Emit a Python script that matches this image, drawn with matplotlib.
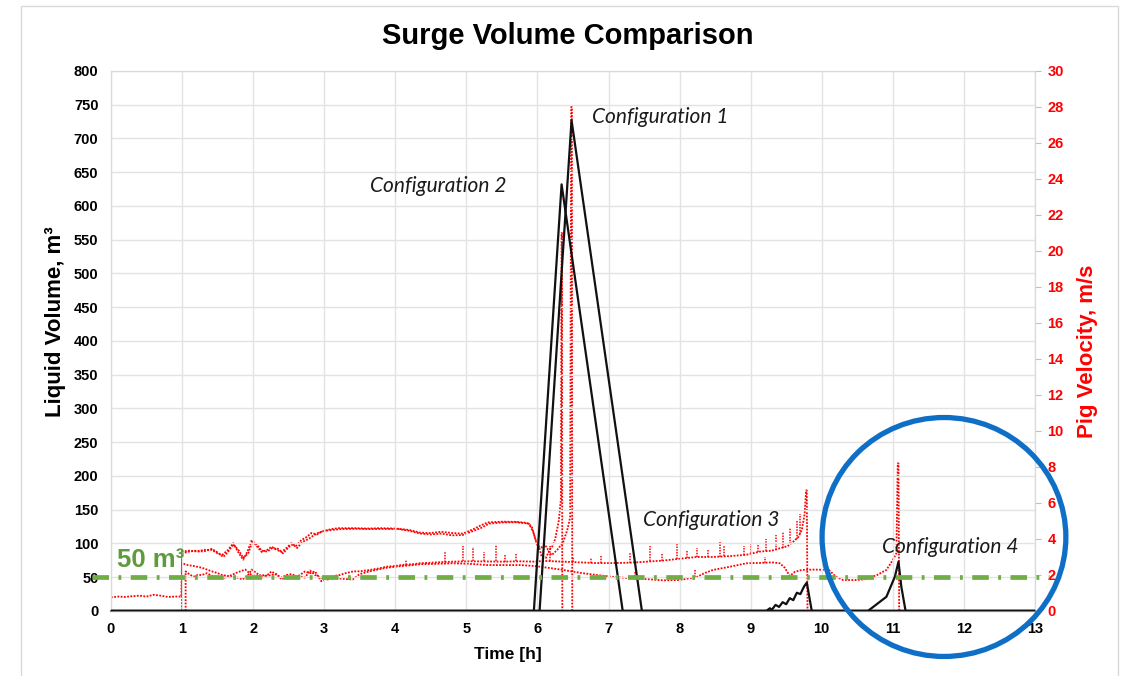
import matplotlib.pyplot as plt
from matplotlib.patches import Ellipse, Rectangle

# Liquid volume (m3) per configuration, time in hours
conf1_t = [0, 6.03, 6.48, 7.47, 13]
conf1_v = [0, 0, 727, 0, 0]
conf2_t = [0, 5.95, 6.34, 7.20, 13]
conf2_v = [0, 0, 632, 0, 0]
conf3_t = [0, 9.22, 9.27, 9.30, 9.35, 9.40, 9.45, 9.50, 9.55, 9.60, 9.65, 9.70, 9.75, 9.79, 9.86, 13]
conf3_v = [0, 0, 4, 2, 9, 6, 13, 10, 19, 16, 27, 25, 36, 42, 0, 0]
conf4_t = [0, 10.65, 10.91, 11.03, 11.08, 11.12, 11.18, 13]
conf4_v = [0, 0, 21, 51, 73, 36, 0, 0]

# Pig velocity (m/s) per configuration
pig1_t = [0, 1.0, 1.0, 1.1, 1.23, 1.3, 1.42, 1.5, 1.56, 1.65, 1.72, 1.8, 1.86, 1.92, 1.98,
          2.05, 2.12, 2.2, 2.26, 2.33, 2.4, 2.47, 2.54, 2.6, 2.68, 2.75, 2.82, 2.9, 2.96,
          3.1, 3.2, 3.4, 3.6, 3.8, 4.0, 4.2, 4.35, 4.5, 4.65, 4.8, 4.95, 5.1, 5.2, 5.3,
          5.5, 5.7, 5.85, 5.92, 5.97, 6.02, 6.06, 6.12, 6.16, 6.2, 6.28, 6.36, 6.42, 6.46,
          6.475, 6.485, 6.49, 13]
pig1_v = [0, 0, 3.3, 3.35, 3.3, 3.4, 3.39, 3.2, 3.1, 3.4, 3.77, 3.2, 2.85, 3.3, 3.94,
          3.6, 3.28, 3.4, 3.57, 3.4, 3.28, 3.5, 3.77, 3.6, 3.94, 4.1, 4.33, 4.25, 4.4,
          4.55, 4.6, 4.6, 4.58, 4.6, 4.58, 4.5, 4.35, 4.33, 4.4, 4.33, 4.3, 4.55, 4.75, 4.92,
          4.96, 4.95, 4.9, 4.7, 4.0, 3.6, 3.0, 2.95, 3.3, 3.1, 3.4, 3.8, 4.5, 5.2,
          28.0, 28.0, 0, 0]

pig2_t = [0, 0.1, 0.2, 0.3, 0.4, 0.5, 0.6, 0.7, 0.8, 0.9, 0.99, 1.0, 1.1, 1.2, 1.3, 1.42,
          1.5, 1.58, 1.65, 1.72, 1.8, 1.86, 1.93, 1.99, 2.05, 2.12, 2.2, 2.27, 2.35, 2.42,
          2.5, 2.56, 2.62, 2.7, 2.78, 2.85, 2.92, 3.0, 3.1, 3.25, 3.45, 3.65, 3.85, 4.05,
          4.2, 4.35, 4.5, 4.65, 4.8, 4.95, 5.1, 5.2, 5.32, 5.5, 5.7, 5.88, 5.94, 6.0, 6.05,
          6.1, 6.15, 6.2, 6.25, 6.3, 6.33, 6.34, 6.345, 6.35, 13]
pig2_v = [0.75, 0.8, 0.78, 0.82, 0.85, 0.8, 0.9, 0.85, 0.78, 0.8, 0.8, 3.2, 3.3, 3.35, 3.3, 3.45,
          3.25, 3.0, 3.3, 3.7, 3.35, 2.95, 3.2, 3.85, 3.7, 3.35, 3.3, 3.5, 3.45, 3.2,
          3.55, 3.7, 3.5, 3.85, 4.0, 4.2, 4.35, 4.45, 4.5, 4.55, 4.57, 4.55, 4.56, 4.55,
          4.45, 4.3, 4.25, 4.3, 4.2, 4.22, 4.45, 4.6, 4.85, 4.92, 4.93, 4.85, 4.4, 3.6, 3.5,
          3.7, 3.4, 3.5, 4.0, 5.0, 6.2, 21.0, 21.0, 0, 0]

pig3_t = [0, 1.0, 1.0, 1.08, 1.16, 1.22, 1.28, 1.35, 1.42, 1.5, 1.56, 1.63, 1.7, 1.78, 1.85,
          1.92, 1.98, 2.05, 2.12, 2.2, 2.26, 2.33, 2.4, 2.47, 2.54, 2.62, 2.73, 2.8, 2.87,
          2.96, 3.05, 3.15, 3.22, 3.3, 3.41, 3.5, 3.64, 3.75, 3.88, 4.0, 4.11, 4.25, 4.35,
          4.58, 4.81, 5.04, 5.3, 5.52, 5.76, 5.95, 6.1, 6.36, 6.6, 6.83, 7.05, 7.3, 7.54,
          7.77, 8.0, 8.24, 8.47, 8.71, 8.94, 9.13, 9.3, 9.41, 9.52, 9.6, 9.67, 9.72, 9.76,
          9.78, 9.79, 9.8, 13]
pig3_v = [0, 0, 2.65, 2.55, 2.5, 2.45, 2.4, 2.3, 2.2, 2.1, 2.0, 1.95, 1.9, 1.85, 1.75,
          1.95, 2.3, 2.1, 1.85, 2.0, 2.2, 2.0, 1.85, 2.0, 2.05, 1.9, 2.2, 2.1, 2.2,
          1.65, 1.8, 1.95, 2.0, 2.1, 2.2, 2.2, 2.28, 2.35, 2.46, 2.5, 2.56, 2.6, 2.65,
          2.7, 2.74, 2.76, 2.75, 2.74, 2.76, 2.74, 2.78, 2.74, 2.7, 2.66, 2.66, 2.68, 2.74,
          2.8, 2.9, 3.0, 3.0, 3.05, 3.12, 3.3, 3.35, 3.48, 3.6, 3.85, 4.1, 4.5, 5.4,
          6.7, 6.7, 0, 0]

pig4_t = [0, 1.05, 1.05, 1.1, 1.16, 1.22, 1.28, 1.35, 1.42, 1.5, 1.56, 1.63, 1.7, 1.78, 1.89,
          1.98, 2.05, 2.12, 2.2, 2.26, 2.33, 2.4, 2.47, 2.54, 2.62, 2.73, 2.8, 2.87, 2.96,
          3.05, 3.15, 3.22, 3.4, 3.5, 3.64, 3.75, 3.88, 4.0, 4.11, 4.25, 4.35, 4.58, 4.81,
          5.04, 5.3, 5.52, 5.76, 5.95, 6.15, 6.36, 6.6, 6.83, 7.05, 7.3, 7.54, 7.77, 8.0,
          8.24, 8.35, 8.47, 8.71, 8.94, 9.13, 9.3, 9.41, 9.48, 9.55, 9.62, 9.72, 9.9, 10.1,
          10.2, 10.3, 10.5, 10.64, 10.78, 10.91, 11.0, 11.05, 11.07, 11.08, 11.09, 13]
pig4_v = [0, 0, 2.2, 2.05, 1.9, 2.0, 2.0, 2.1, 1.95, 1.9, 1.8, 1.9, 2.0, 2.15, 2.3,
          2.0, 1.95, 2.0, 1.95, 2.0, 2.05, 1.75, 1.9, 1.85, 1.95, 1.85, 2.25, 2.0, 1.85,
          1.75, 1.85, 1.8, 1.75, 2.05, 2.2, 2.3, 2.4, 2.46, 2.5, 2.55, 2.6, 2.62, 2.65,
          2.62, 2.55, 2.55, 2.55, 2.5, 2.4, 2.28, 2.12, 2.0, 1.9, 1.82, 1.77, 1.7, 1.72,
          1.88, 2.1, 2.28, 2.46, 2.65, 2.67, 2.7, 2.65, 2.4, 1.94, 2.17, 2.28, 2.3, 2.28,
          1.9, 1.72, 1.72, 1.78, 2.0, 2.28, 2.83, 3.2, 8.2, 8.2, 0, 0]

# short velocity spikes: time, base, top
spike3_t = [4.15, 4.7, 4.95, 5.1, 5.25, 5.42, 5.55, 5.7, 6.18, 6.5, 6.76, 6.9, 7.3, 7.58,
            7.75, 7.97, 8.1, 8.24, 8.4, 8.57, 8.62, 8.9, 9.0, 9.1, 9.22, 9.35, 9.45, 9.55,
            9.65, 9.7]
spike3_lo = [2.57, 2.72, 2.75, 2.76, 2.75, 2.75, 2.74, 2.75, 2.78, 2.72, 2.66, 2.66, 2.68, 2.75,
             2.8, 2.9, 2.95, 3.0, 3.0, 3.02, 3.03, 3.1, 3.2, 3.28, 3.32, 3.38, 3.5, 3.7,
             4.0, 4.3]
spike3_hi = [2.85, 3.3, 3.6, 3.57, 3.3, 3.65, 3.1, 3.2, 3.6, 3.0, 2.95, 3.1, 3.2, 3.6,
             3.2, 3.7, 3.4, 3.5, 3.4, 3.85, 3.6, 3.6, 3.8, 3.7, 4.0, 4.2, 4.4, 4.6,
             5.0, 5.4]
spike4_t = [7.37, 8.22, 9.2]
spike4_lo = [1.8, 1.87, 2.68]
spike4_hi = [2.2, 2.3, 3.0]

limit_volume = 50

x_ticks = list(range(0, 14))
y_ticks = list(range(0, 801, 50))
y2_ticks = list(range(0, 31, 2))

plt.rcParams['font.family'] = ['Liberation Sans', 'DejaVu Sans']

fig = plt.figure(figsize=(11.28, 6.76), dpi=100)
fig.patches.append(Rectangle((0.0186, -0.01), 0.9725, 1.001, transform=fig.transFigure,
                             fill=False, edgecolor='#d9d9d9', linewidth=1))
ax = fig.add_axes([0.0984, 0.0962, 0.8191, 0.7988])
ax2 = ax.twinx()

red = '#ff0000'
dots = (0, (1, 0.8))
for t, v in [(pig1_t, pig1_v), (pig2_t, pig2_v), (pig3_t, pig3_v), (pig4_t, pig4_v)]:
    ax2.plot(t, v, color=red, linestyle=dots, linewidth=1.3)
ax2.vlines(spike3_t, spike3_lo, spike3_hi, colors=red, linestyles=[dots], linewidth=1.1)
ax2.vlines(spike4_t, spike4_lo, spike4_hi, colors=red, linestyles=[dots], linewidth=1.1)

for t, v in [(conf1_t, conf1_v), (conf2_t, conf2_v), (conf3_t, conf3_v), (conf4_t, conf4_v)]:
    ax.plot(t, v, color='#111111', linewidth=1.6, zorder=3)

# 50 m3 reference level, drawn a little past both axes
ax.plot([-0.27, 13.2], [limit_volume, limit_volume], color='#70ad47', linewidth=3.4,
        linestyle=(0, (3.5, 2, 0.6, 2)), clip_on=False, zorder=4)

ax.set_zorder(2)
ax.patch.set_visible(False)
ax2.set_zorder(1)

ax.set_xlim(0, 13)
ax.set_ylim(0, 800)
ax2.set_ylim(0, 30)
ax.set_xticks(x_ticks)
ax.set_yticks(y_ticks)
ax2.set_yticks(y2_ticks)
ax.grid(True, color='#e3e3e3', linewidth=1)
ax.tick_params(axis='both', length=0, labelsize=10.5)
ax.tick_params(axis='y', pad=9)
ax.tick_params(axis='x', pad=8)
ax2.tick_params(axis='y', length=4, color='#bfbfbf', labelsize=10.5, labelcolor=red, pad=5)
for lbl in ax.get_xticklabels() + ax.get_yticklabels() + ax2.get_yticklabels():
    lbl.set_fontweight('bold')

for a in (ax, ax2):
    for side in ('top', 'left', 'right'):
        a.spines[side].set_color('#d9d9d9')
    a.spines['bottom'].set_color('#808080')
    a.spines['bottom'].set_linewidth(1.5)

ax.set_ylabel('Liquid Volume, m³', fontsize=16, fontweight='bold', va='center')
ax.yaxis.set_label_coords(-0.0606, 0.535)
ax2.set_ylabel('Pig Velocity, m/s', fontsize=16, fontweight='bold', color=red, va='center')
ax2.yaxis.set_label_coords(1.0574, 0.48)
ax.set_xlabel('Time [h]', fontsize=12.5, fontweight='bold', va='center')
ax.xaxis.set_label_coords(0.43, -0.0815)

fig.text(0.5036, 0.947, 'Surge Volume Comparison', fontsize=21, fontweight='bold',
         ha='center', va='center')

note = dict(fontsize=15, style='italic', family=['Lato', 'DejaVu Sans'], color='#1a1a1a',
            ha='left', va='center', zorder=5)
ax.text(6.77, 732, 'Configuration 1', **note)
ax.text(3.64, 630, 'Configuration 2', **note)
ax.text(7.48, 135, 'Configuration 3', **note)
ax.text(10.85, 95, 'Configuration 4', **note)
ax.text(0.08, 75, '50 m³', fontsize=18.5, fontweight='bold', color='#5e9a3e',
        ha='left', va='center', zorder=5)

ax.add_patch(Ellipse((11.72, 109.6), 3.43, 354, fill=False, edgecolor='#0f6fc6',
                     linewidth=3.8, clip_on=False, zorder=6))

fig.savefig('out.png', dpi=100)
